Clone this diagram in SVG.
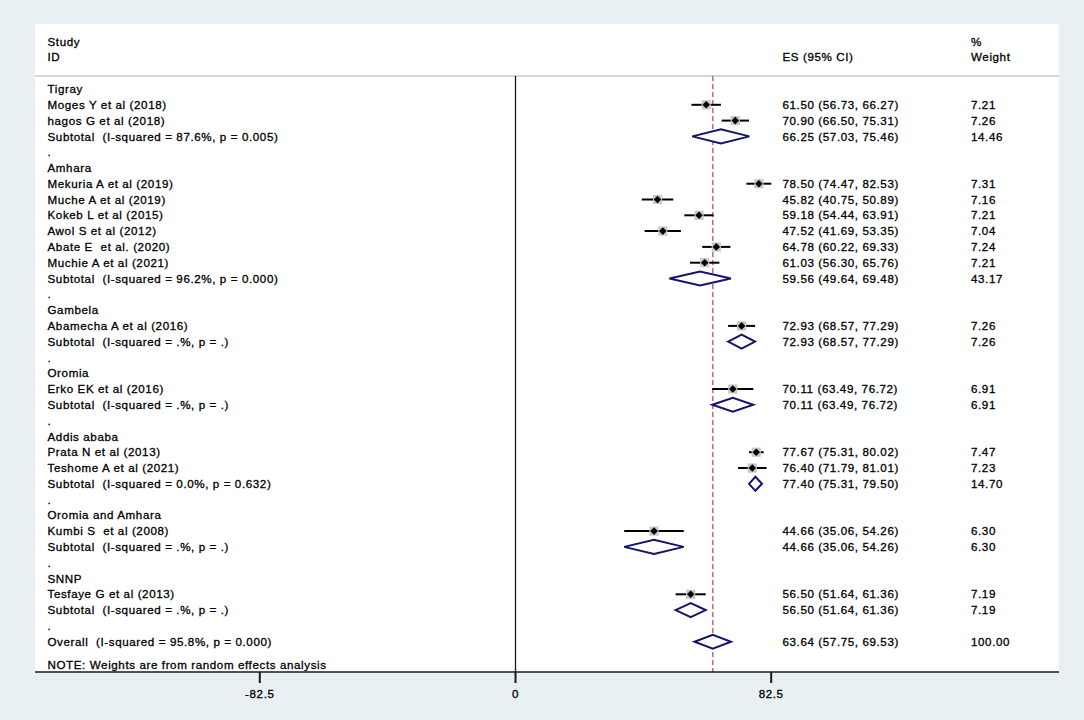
<svg xmlns="http://www.w3.org/2000/svg" width="1084" height="720" viewBox="0 0 1084 720" xml:space="preserve">
<style>
text{font-family:"Liberation Sans",Arial,sans-serif;font-size:11.6px;letter-spacing:0.6px;fill:#000;stroke:#000;stroke-width:0.3px;white-space:pre}
.ci{stroke:#000;stroke-width:2}
.dm{fill:#fff;stroke:#14146e;stroke-width:2;stroke-linejoin:miter}
.ax{stroke:#1a1a1a;stroke-width:1.3;fill:none}
.tk{stroke:#1a1a1a;stroke-width:2}
</style>
<defs>
<g id="pt"><rect x="-4.6" y="-4.6" width="9.2" height="9.2" fill="#c8c8c8"/><path d="M-3.8,0 L0,-3.8 L3.8,0 L0,3.8Z" fill="#000"/></g>
</defs>
<rect width="1084" height="720" fill="#e9f0f3"/>
<rect x="35" y="24" width="1024" height="648" fill="#fff"/>
<g id="header">
<text x="47.5" y="45.8">Study</text>
<text x="47.5" y="61.4">ID</text>
<text x="782.5" y="61.4">ES (95% CI)</text>
<text x="971" y="45.8">%</text>
<text x="971" y="61.4">Weight</text>
<line x1="35" y1="76" x2="1059" y2="76" stroke="#c8c8c8" stroke-width="1.6"/>
</g>
<g id="axes">
<line class="ax" x1="515.5" y1="76" x2="515.5" y2="672"/>
<line x1="712.8" y1="76" x2="712.8" y2="672" stroke="#b5555f" stroke-width="1.3" stroke-dasharray="5 3"/>
<line class="ax" x1="35" y1="672" x2="1059" y2="672"/>
<line class="tk" x1="259.8" y1="672" x2="259.8" y2="683"/>
<line class="tk" x1="515.5" y1="672" x2="515.5" y2="683"/>
<line class="tk" x1="771.2" y1="672" x2="771.2" y2="683"/>
<text x="259.8" y="698" text-anchor="middle">-82.5</text>
<text x="515.5" y="698" text-anchor="middle">0</text>
<text x="771.2" y="698" text-anchor="middle">82.5</text>
</g>
<g id="tigray">
<text x="47.5" y="93.1">Tigray</text>
<text x="47.5" y="108.9">Moges Y et al (2018)</text>
<line class="ci" x1="691.4" y1="104.8" x2="720.9" y2="104.8"/><use href="#pt" x="706.2" y="104.8"/>
<text x="782.5" y="108.9">61.50 (56.73, 66.27)</text><text x="971" y="108.9">7.21</text>
<text x="47.5" y="124.7">hagos G et al (2018)</text>
<line class="ci" x1="721.7" y1="120.6" x2="749" y2="120.6"/><use href="#pt" x="735.3" y="120.6"/>
<text x="782.5" y="124.7">70.90 (66.50, 75.31)</text><text x="971" y="124.7">7.26</text>
<text x="47.5" y="140.5">Subtotal  (I-squared = 87.6%, p = 0.005)</text>
<path class="dm" d="M692.3,136.4 L720.9,129.4 L749.4,136.4 L720.9,143.4Z"/>
<text x="782.5" y="140.5">66.25 (57.03, 75.46)</text><text x="971" y="140.5">14.46</text>
<text x="47.5" y="156.3">.</text>
</g>
<g id="amhara">
<text x="47.5" y="172.1">Amhara</text>
<text x="47.5" y="187.8">Mekuria A et al (2019)</text>
<line class="ci" x1="746.4" y1="183.7" x2="771.3" y2="183.7"/><use href="#pt" x="758.9" y="183.7"/>
<text x="782.5" y="187.8">78.50 (74.47, 82.53)</text><text x="971" y="187.8">7.31</text>
<text x="47.5" y="203.6">Muche A et al (2019)</text>
<line class="ci" x1="641.8" y1="199.5" x2="673.3" y2="199.5"/><use href="#pt" x="657.5" y="199.5"/>
<text x="782.5" y="203.6">45.82 (40.75, 50.89)</text><text x="971" y="203.6">7.16</text>
<text x="47.5" y="219.4">Kokeb L et al (2015)</text>
<line class="ci" x1="684.3" y1="215.3" x2="713.6" y2="215.3"/><use href="#pt" x="699" y="215.3"/>
<text x="782.5" y="219.4">59.18 (54.44, 63.91)</text><text x="971" y="219.4">7.21</text>
<text x="47.5" y="235.2">Awol S et al (2012)</text>
<line class="ci" x1="644.7" y1="231.1" x2="680.9" y2="231.1"/><use href="#pt" x="662.8" y="231.1"/>
<text x="782.5" y="235.2">47.52 (41.69, 53.35)</text><text x="971" y="235.2">7.04</text>
<text x="47.5" y="251">Abate E  et al. (2020)</text>
<line class="ci" x1="702.2" y1="246.9" x2="730.4" y2="246.9"/><use href="#pt" x="716.3" y="246.9"/>
<text x="782.5" y="251">64.78 (60.22, 69.33)</text><text x="971" y="251">7.24</text>
<text x="47.5" y="266.8">Muchie A et al (2021)</text>
<line class="ci" x1="690" y1="262.7" x2="719.4" y2="262.7"/><use href="#pt" x="704.7" y="262.7"/>
<text x="782.5" y="266.8">61.03 (56.30, 65.76)</text><text x="971" y="266.8">7.21</text>
<text x="47.5" y="282.6">Subtotal  (I-squared = 96.2%, p = 0.000)</text>
<path class="dm" d="M669.4,278.5 L700.1,271.5 L730.9,278.5 L700.1,285.5Z"/>
<text x="782.5" y="282.6">59.56 (49.64, 69.48)</text><text x="971" y="282.6">43.17</text>
<text x="47.5" y="298.4">.</text>
</g>
<g id="gambela">
<text x="47.5" y="314.2">Gambela</text>
<text x="47.5" y="330">Abamecha A et al (2016)</text>
<line class="ci" x1="728.1" y1="325.9" x2="755.1" y2="325.9"/><use href="#pt" x="741.6" y="325.9"/>
<text x="782.5" y="330">72.93 (68.57, 77.29)</text><text x="971" y="330">7.26</text>
<text x="47.5" y="345.7">Subtotal  (I-squared = .%, p = .)</text>
<path class="dm" d="M728.1,341.6 L741.6,334.6 L755.1,341.6 L741.6,348.6Z"/>
<text x="782.5" y="345.7">72.93 (68.57, 77.29)</text><text x="971" y="345.7">7.26</text>
<text x="47.5" y="361.5">.</text>
</g>
<g id="oromia">
<text x="47.5" y="377.3">Oromia</text>
<text x="47.5" y="393.1">Erko EK et al (2016)</text>
<line class="ci" x1="712.3" y1="389" x2="753.3" y2="389"/><use href="#pt" x="732.8" y="389"/>
<text x="782.5" y="393.1">70.11 (63.49, 76.72)</text><text x="971" y="393.1">6.91</text>
<text x="47.5" y="408.9">Subtotal  (I-squared = .%, p = .)</text>
<path class="dm" d="M712.3,404.8 L732.8,397.8 L753.3,404.8 L732.8,411.8Z"/>
<text x="782.5" y="408.9">70.11 (63.49, 76.72)</text><text x="971" y="408.9">6.91</text>
<text x="47.5" y="424.7">.</text>
</g>
<g id="addis-ababa">
<text x="47.5" y="440.5">Addis ababa</text>
<text x="47.5" y="456.3">Prata N et al (2013)</text>
<line class="ci" x1="749" y1="452.2" x2="763.6" y2="452.2"/><use href="#pt" x="756.3" y="452.2"/>
<text x="782.5" y="456.3">77.67 (75.31, 80.02)</text><text x="971" y="456.3">7.47</text>
<text x="47.5" y="472.1">Teshome A et al (2021)</text>
<line class="ci" x1="738.1" y1="468" x2="766.6" y2="468"/><use href="#pt" x="752.3" y="468"/>
<text x="782.5" y="472.1">76.40 (71.79, 81.01)</text><text x="971" y="472.1">7.23</text>
<text x="47.5" y="487.9">Subtotal  (I-squared = 0.0%, p = 0.632)</text>
<path class="dm" d="M749,483.8 L755.4,476.8 L762,483.8 L755.4,490.8Z"/>
<text x="782.5" y="487.9">77.40 (75.31, 79.50)</text><text x="971" y="487.9">14.70</text>
<text x="47.5" y="503.6">.</text>
</g>
<g id="oromia-amhara">
<text x="47.5" y="519.4">Oromia and Amhara</text>
<text x="47.5" y="535.2">Kumbi S  et al (2008)</text>
<line class="ci" x1="624.2" y1="531.1" x2="683.7" y2="531.1"/><use href="#pt" x="654" y="531.1"/>
<text x="782.5" y="535.2">44.66 (35.06, 54.26)</text><text x="971" y="535.2">6.30</text>
<text x="47.5" y="551">Subtotal  (I-squared = .%, p = .)</text>
<path class="dm" d="M624.2,546.9 L654,539.9 L683.7,546.9 L654,553.9Z"/>
<text x="782.5" y="551">44.66 (35.06, 54.26)</text><text x="971" y="551">6.30</text>
<text x="47.5" y="566.8">.</text>
</g>
<g id="snnp">
<text x="47.5" y="582.6">SNNP</text>
<text x="47.5" y="598.4">Tesfaye G et al (2013)</text>
<line class="ci" x1="675.6" y1="594.3" x2="705.7" y2="594.3"/><use href="#pt" x="690.7" y="594.3"/>
<text x="782.5" y="598.4">56.50 (51.64, 61.36)</text><text x="971" y="598.4">7.19</text>
<text x="47.5" y="614.2">Subtotal  (I-squared = .%, p = .)</text>
<path class="dm" d="M675.6,610.1 L690.7,603.1 L705.7,610.1 L690.7,617.1Z"/>
<text x="782.5" y="614.2">56.50 (51.64, 61.36)</text><text x="971" y="614.2">7.19</text>
<text x="47.5" y="630">.</text>
</g>
<g id="overall">
<text x="47.5" y="645.8">Overall  (I-squared = 95.8%, p = 0.000)</text>
<path class="dm" d="M694.5,641.7 L712.8,634.7 L731,641.7 L712.8,648.7Z"/>
<text x="782.5" y="645.8">63.64 (57.75, 69.53)</text><text x="971" y="645.8">100.00</text>
<text x="47.5" y="669.1">NOTE: Weights are from random effects analysis</text>
</g>
</svg>
